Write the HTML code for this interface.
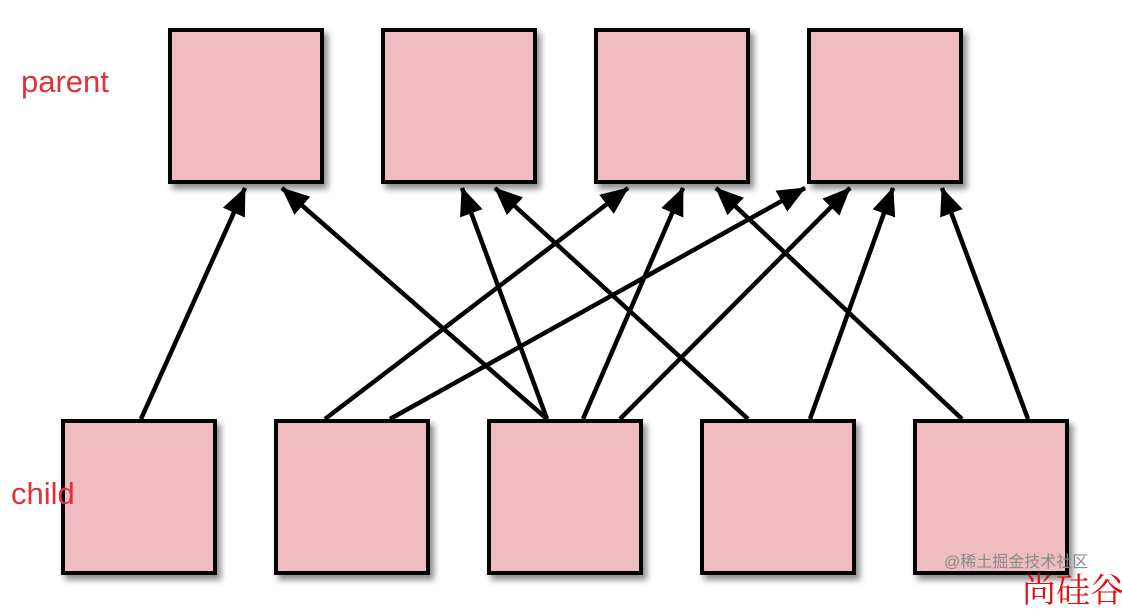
<!DOCTYPE html>
<html><head><meta charset="utf-8"><style>
body{margin:0;width:1122px;height:588px;background:#fff;overflow:hidden;position:relative;font-family:"Liberation Sans","Noto Sans CJK SC",sans-serif}
.b{position:absolute;width:148px;height:148px;background:#efbcc2;border:4px solid #000;box-shadow:4px 5px 6px rgba(0,0,0,.45)}
.l{position:absolute;color:#e0303a;font-size:31px}
</style></head><body>
<div class="b" style="left:168px;top:28px"></div>
<div class="b" style="left:381px;top:28px"></div>
<div class="b" style="left:594px;top:28px"></div>
<div class="b" style="left:807px;top:28px"></div>
<div class="b" style="left:61px;top:419px"></div>
<div class="b" style="left:274px;top:419px"></div>
<div class="b" style="left:487px;top:419px"></div>
<div class="b" style="left:700px;top:419px"></div>
<div class="b" style="left:913px;top:419px"></div>
<div class="l" style="left:21px;top:64px">parent</div>
<div class="l" style="left:11px;top:476px">child</div>
<div style="position:absolute;left:944px;top:548px;font-size:16px;color:#8a8a8a;white-space:nowrap">@稀土掘金技术社区</div>
<div style="position:absolute;left:1022px;top:563px;font-size:34px;color:#e01010;white-space:nowrap;font-family:'Noto Serif CJK SC',serif">尚硅谷</div>
<svg width="1122" height="588" style="position:absolute;left:0;top:0">
<defs><marker id="a" markerWidth="28" markerHeight="24" refX="27" refY="12" orient="auto" markerUnits="userSpaceOnUse"><path d="M0,0 L28,12 L0,24 z" fill="#000"/></marker></defs>
<g stroke="#000" stroke-width="4.5" marker-end="url(#a)">
<line x1="141" y1="419" x2="245" y2="188"/>
<line x1="547" y1="419" x2="282" y2="188"/>
<line x1="547" y1="419" x2="462" y2="188"/>
<line x1="748" y1="419" x2="495" y2="188"/>
<line x1="325" y1="419" x2="628" y2="188"/>
<line x1="583" y1="419" x2="683" y2="188"/>
<line x1="962" y1="419" x2="716" y2="188"/>
<line x1="390" y1="419" x2="805" y2="188"/>
<line x1="620" y1="419" x2="850" y2="188"/>
<line x1="810" y1="419" x2="893" y2="188"/>
<line x1="1028" y1="419" x2="942" y2="188"/>
</g></svg>
</body></html>
